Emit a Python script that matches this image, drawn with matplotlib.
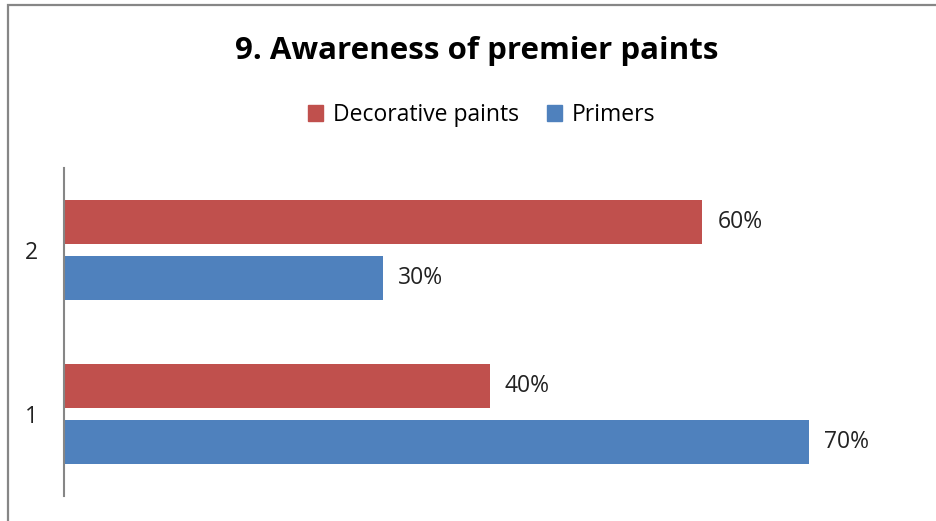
import matplotlib.pyplot as plt
from matplotlib.patches import Rectangle, Patch

# Survey results, in percent
categories = ["1", "2"]
decorative = [40, 60]
primers = [70, 30]
series_names = ["Decorative paints", "Primers"]

RED = "#C0504D"
BLUE = "#4F81BD"
GREY = "#868686"

plt.rcParams["font.family"] = ["Open Sans", "DejaVu Sans"]

W, H = 937, 521
fig = plt.figure(figsize=(W / 100, H / 100), dpi=100)
ax = fig.add_axes([64 / W, (H - 496) / H, (915 - 64) / W, (496 - 168) / H])

pos = [float(c) for c in categories]
h = 0.268
off = 0.169
bars_dec = ax.barh([p + off for p in pos], decorative, height=h, color=RED, label=series_names[0])
bars_pri = ax.barh([p - off for p in pos], primers, height=h, color=BLUE, label=series_names[1])

ax.bar_label(bars_dec, labels=[f"{v}%" for v in decorative], padding=11, fontsize=16.5, color="#222222")
ax.bar_label(bars_pri, labels=[f"{v}%" for v in primers], padding=11, fontsize=16.5, color="#222222")

ax.set_xlim(0, 80)
ax.set_ylim(0.5, 2.5)
ax.set_yticks(pos)
ax.set_yticklabels(categories, fontsize=16.5, color="#222222")
ax.tick_params(axis="y", length=0, pad=19)
ax.set_xticks([])
for side in ["top", "right", "bottom"]:
    ax.spines[side].set_visible(False)
ax.spines["left"].set_color(GREY)
ax.spines["left"].set_linewidth(1.5)

# title and legend across the top
fig.text(477 / W, 1 - 51 / H, "9. Awareness of premier paints", ha="center", va="center",
         fontsize=22.5, fontweight="bold", color="black")
handles = [Patch(color=RED), Patch(color=BLUE)]
fig.legend(handles, series_names, loc="center", bbox_to_anchor=(482 / W, 1 - 115 / H),
           ncol=2, frameon=False, fontsize=16.5, handlelength=0.65, handleheight=0.65,
           handletextpad=0.45, columnspacing=1.2)

# chart frame, only top and left edges fall inside the image
fig.add_artist(Rectangle((8 / W, -0.1), 1.2, 1.1 - 5 / H, transform=fig.transFigure,
                         fill=False, edgecolor=GREY, linewidth=1.6))

fig.savefig("out.png", dpi=100)
